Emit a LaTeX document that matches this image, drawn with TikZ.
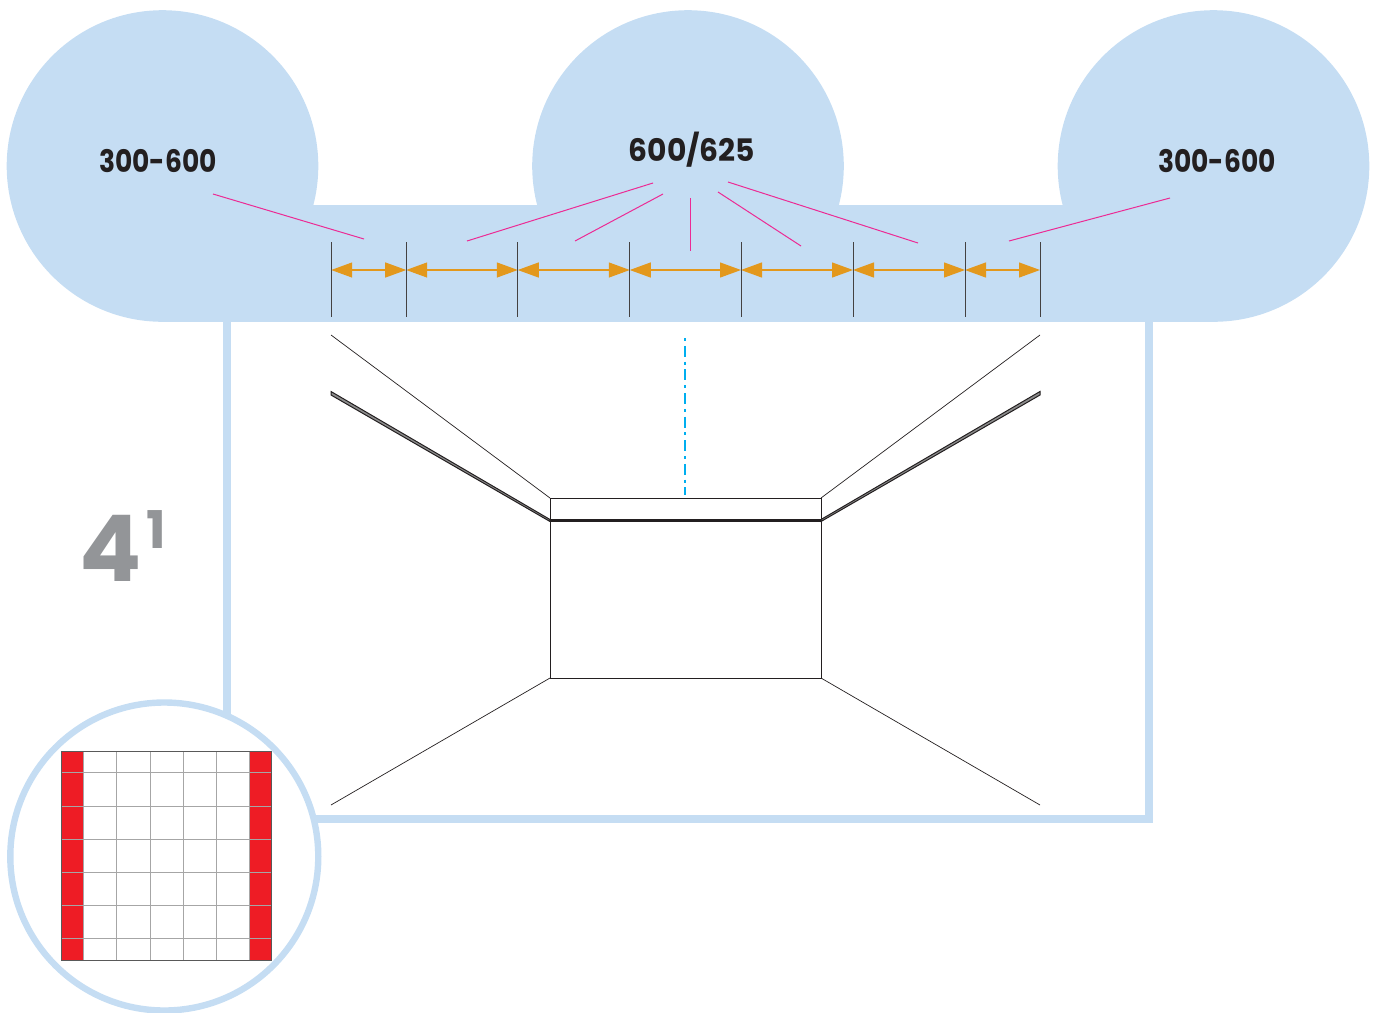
\documentclass[tikz,border=0pt]{standalone}
\usepackage{fontspec}
\setmainfont{Poppins}
\usetikzlibrary{arrows.meta}
\definecolor{paleblue}{HTML}{C5DDF3}
\definecolor{inkblack}{HTML}{231F20}
\definecolor{greynum}{HTML}{939598}
\definecolor{leader}{HTML}{EC2A94}
\definecolor{dimorange}{HTML}{E3981C}
\definecolor{axisblue}{HTML}{00AEEF}
\definecolor{cellred}{HTML}{EE1C25}
\tikzset{
  x=0.5pt,y=-0.5pt,
  blob/.style={fill=paleblue,draw=none},
  frameline/.style={draw=paleblue,line width=4pt},
  label/.style={font=\bfseries\fontsize{15.5}{18}\selectfont,text=inkblack,inner sep=0pt,anchor=center},
  leaderline/.style={draw=leader,line width=0.5pt},
  tickline/.style={draw=inkblack!85,line width=0.5pt},
  dimline/.style={draw=dimorange,line width=0.6pt,{Triangle[length=10.5pt,width=7.5pt]}-{Triangle[length=10.5pt,width=7.5pt]},shorten <=0pt,shorten >=0pt},
  roomline/.style={draw=inkblack,line width=0.35pt},
  gridline/.style={draw=black!35,line width=0.5pt},
}
\begin{document}
\begin{tikzpicture}
\useasboundingbox (0,0) rectangle (1383,1013);
% room frame
\draw[frameline] (226.7,322) -- (226.7,720);
\draw[frameline] (310,818.5) -- (1149,818.5) -- (1149,322);
% top band and circles
\fill[blob] (162.5,166) circle[radius=155.8];
\fill[blob] (688,166) circle[radius=155.8];
\fill[blob] (1213.5,166) circle[radius=155.8];
\fill[blob] (162.5,205) rectangle (1213.5,322);
% labels
\node[label] (lleft) at (158,161) {\scalebox{0.855}[1]{300-600}};
\node[label] (lmid) at (692,150) {\scalebox{0.96}[1]{600/625}};
\node[label] (lright) at (1217,161) {\scalebox{0.855}[1]{300-600}};
\node[anchor=base west,inner sep=0pt,text=greynum,font=\bfseries\fontsize{46}{50}\selectfont] (four) at (79,581) {4};
\node[anchor=base west,inner sep=0pt,text=greynum,font=\bfseries\fontsize{26}{30}\selectfont] (sup) at (146,548) {1};
% leaders
\coordinate (a1) at (213,194); \coordinate (a2) at (364,239);
\coordinate (b1) at (653,183); \coordinate (b2) at (467,241);
\coordinate (c1) at (663,194); \coordinate (c2) at (575,241);
\coordinate (d1) at (690,198); \coordinate (d2) at (690,251);
\coordinate (e1) at (718,192); \coordinate (e2) at (801,246);
\coordinate (f1) at (728,182); \coordinate (f2) at (918,243);
\coordinate (g1) at (1170,198); \coordinate (g2) at (1009,241);
\foreach \p in {a,b,c,d,e,f,g} \draw[leaderline] (\p1) -- (\p2);
% ticks and dimension arrows
\foreach \n/\x in {0/331.2,1/406.2,2/517.8,3/629.8,4/741,5/853,6/965,7/1040}{
  \coordinate (t\n) at (\x,242); \coordinate (u\n) at (\x,317); \coordinate (m\n) at (\x,270);
}
\foreach \a/\b in {0/1,1/2,2/3,3/4,4/5,5/6,6/7} \draw[dimline] (m\a) -- (m\b);
\foreach \n in {0,...,7} \draw[tickline] (t\n) -- (u\n);
% room
\coordinate (bl) at (550,498); \coordinate (br) at (821,498);
\coordinate (ml) at (550,520.5); \coordinate (mr) at (821,520.5);
\coordinate (fl) at (550,678); \coordinate (fr) at (821,678);
\draw[roomline] (bl) rectangle (fr);
\draw[inkblack,line width=1.3pt] (ml) -- (mr);
\draw[roomline] (331,335) -- (bl);
\draw[roomline] (1040,335) -- (br);
\draw[roomline] (331,805) -- (fl);
\draw[roomline] (1040,805) -- (fr);
\draw[roomline,line width=0.5pt,fill=black!45] (331,391.5) -- (550,519.5) -- (550,521.5) -- (331,395) -- cycle;
\draw[roomline,line width=0.5pt,fill=black!45] (1040,391.5) -- (821,519.5) -- (821,521.5) -- (1040,395) -- cycle;
\draw[axisblue,line width=0.75pt,dash pattern=on 1.5pt off 2.4pt on 5.5pt off 2.4pt] (685,338) -- (685,495);
% inset
\draw[draw=paleblue,fill=white,line width=3.2pt] (164.3,856.5) circle[radius=154];
\fill[cellred] (61.2,751) rectangle (83,960);
\fill[cellred] (249,751) rectangle (271,960);
\foreach \x in {83.2,116.7,150,183,216.2,249} \draw[gridline] (\x,751) -- (\x,960);
\foreach \y in {772.2,806,839,872,905,938} \draw[gridline] (61.2,\y) -- (271,\y);
\draw[draw=black!65,line width=0.5pt] (61.2,751) rectangle (271,960);
\end{tikzpicture}
\end{document}
